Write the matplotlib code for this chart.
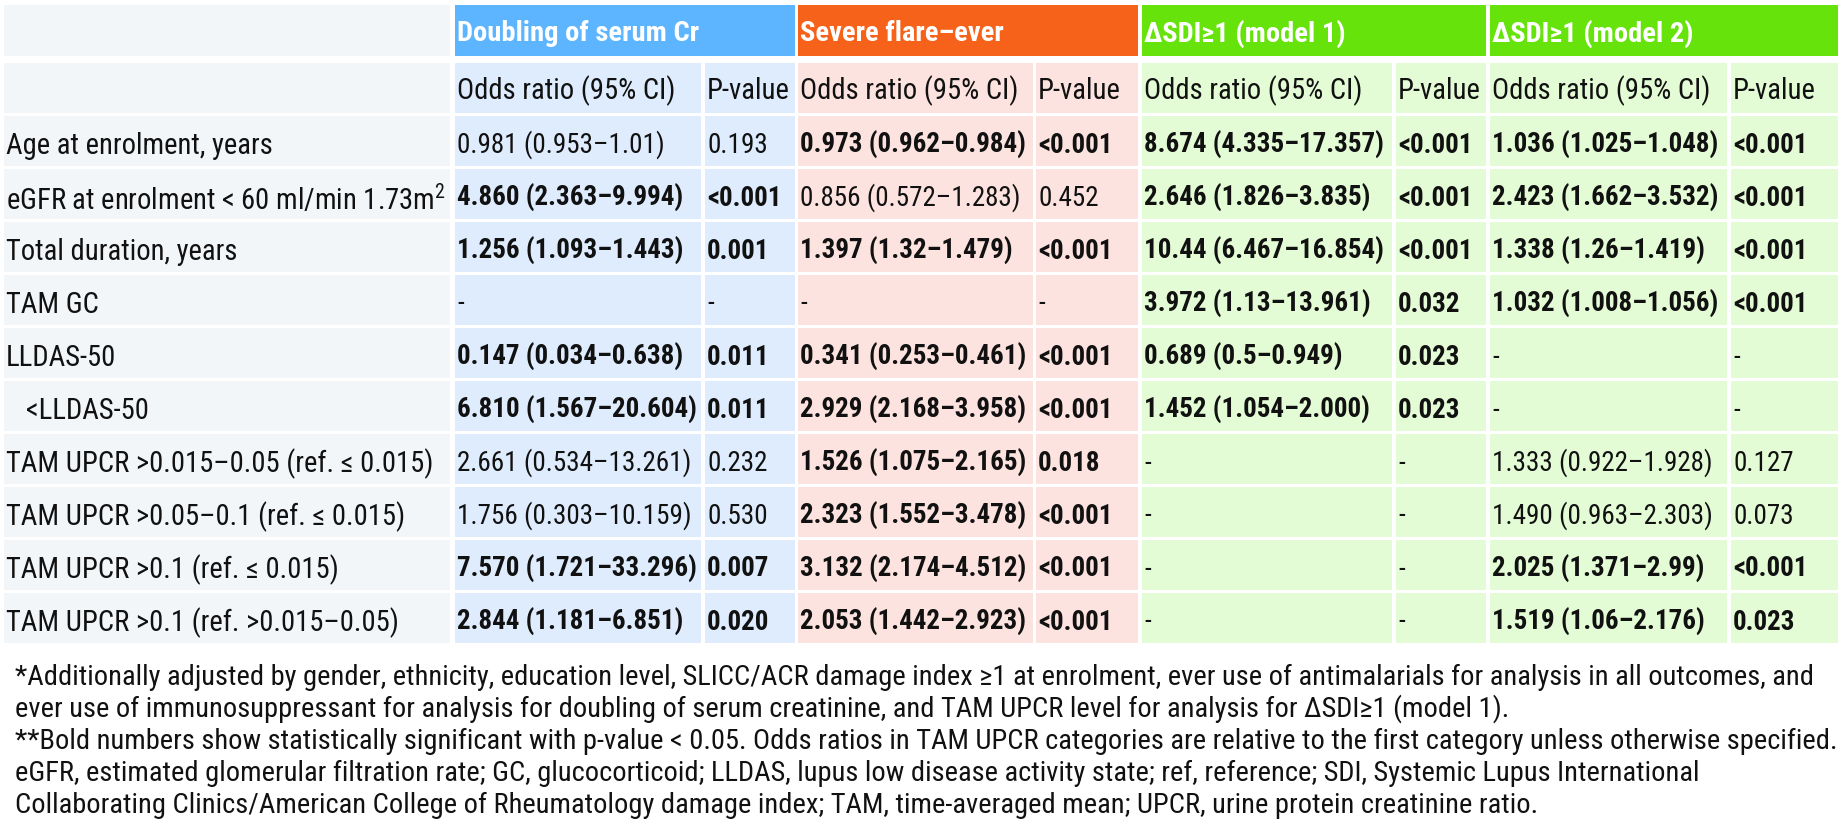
import matplotlib
matplotlib.use("Agg")
import matplotlib.pyplot as plt
from matplotlib import font_manager
from matplotlib.patches import Rectangle

# ---- data ----
outcomes = ["Doubling of serum Cr", "Severe flare\u2013ever", "\u0394SDI\u22651 (model 1)", "\u0394SDI\u22651 (model 2)"]
sub_headers = ["Odds ratio (95% CI)", "P-value"]

row_labels = [
    "Age at enrolment, years",
    "eGFR at enrolment < 60 ml/min 1.73m$^{2}$",
    "Total duration, years",
    "TAM GC",
    "LLDAS-50",
    "   <LLDAS-50",
    "TAM UPCR >0.015\u20130.05 (ref. \u2264 0.015)",
    "TAM UPCR >0.05\u20130.1 (ref. \u2264 0.015)",
    "TAM UPCR >0.1 (ref. \u2264 0.015)",
    "TAM UPCR >0.1 (ref. >0.015\u20130.05)",
]

doubling_or = ["0.981 (0.953\u20131.01)", "4.860 (2.363\u20139.994)", "1.256 (1.093\u20131.443)", "-",
               "0.147 (0.034\u20130.638)", "6.810 (1.567\u201320.604)", "2.661 (0.534\u201313.261)",
               "1.756 (0.303\u201310.159)", "7.570 (1.721\u201333.296)", "2.844 (1.181\u20136.851)"]
doubling_p = ["0.193", "<0.001", "0.001", "-", "0.011", "0.011", "0.232", "0.530", "0.007", "0.020"]
doubling_bold = [0, 1, 1, 0, 1, 1, 0, 0, 1, 1]

flare_or = ["0.973 (0.962\u20130.984)", "0.856 (0.572\u20131.283)", "1.397 (1.32\u20131.479)", "-",
            "0.341 (0.253\u20130.461)", "2.929 (2.168\u20133.958)", "1.526 (1.075\u20132.165)",
            "2.323 (1.552\u20133.478)", "3.132 (2.174\u20134.512)", "2.053 (1.442\u20132.923)"]
flare_p = ["<0.001", "0.452", "<0.001", "-", "<0.001", "<0.001", "0.018", "<0.001", "<0.001", "<0.001"]
flare_bold = [1, 0, 1, 0, 1, 1, 1, 1, 1, 1]

sdi1_or = ["8.674 (4.335\u201317.357)", "2.646 (1.826\u20133.835)", "10.44 (6.467\u201316.854)",
           "3.972 (1.13\u201313.961)", "0.689 (0.5\u20130.949)", "1.452 (1.054\u20132.000)", "-", "-", "-", "-"]
sdi1_p = ["<0.001", "<0.001", "<0.001", "0.032", "0.023", "0.023", "-", "-", "-", "-"]
sdi1_bold = [1, 1, 1, 1, 1, 1, 0, 0, 0, 0]

sdi2_or = ["1.036 (1.025\u20131.048)", "2.423 (1.662\u20133.532)", "1.338 (1.26\u20131.419)",
           "1.032 (1.008\u20131.056)", "-", "-", "1.333 (0.922\u20131.928)", "1.490 (0.963\u20132.303)",
           "2.025 (1.371\u20132.99)", "1.519 (1.06\u20132.176)"]
sdi2_p = ["<0.001", "<0.001", "<0.001", "<0.001", "-", "-", "0.127", "0.073", "<0.001", "0.023"]
sdi2_bold = [1, 1, 1, 1, 0, 0, 0, 0, 1, 1]

footnotes = [
    "*Additionally adjusted by gender, ethnicity, education level, SLICC/ACR damage index \u22651 at enrolment, ever use of antimalarials for analysis in all outcomes, and",
    "ever use of immunosuppressant for analysis for doubling of serum creatinine, and TAM UPCR level for analysis for \u0394SDI\u22651 (model 1).",
    "**Bold numbers show statistically significant with p-value < 0.05. Odds ratios in TAM UPCR categories are relative to the first category unless otherwise specified.",
    "eGFR, estimated glomerular filtration rate; GC, glucocorticoid; LLDAS, lupus low disease activity state; ref, reference; SDI, Systemic Lupus International",
    "Collaborating Clinics/American College of Rheumatology damage index; TAM, time-averaged mean; UPCR, urine protein creatinine ratio.",
]

groups = [
    (doubling_or, doubling_p, doubling_bold),
    (flare_or, flare_p, flare_bold),
    (sdi1_or, sdi1_p, sdi1_bold),
    (sdi2_or, sdi2_p, sdi2_bold),
]

# ---- styling / layout ----
head_colors = ["#5EB5FF", "#F7621A", "#66E30B", "#66E30B"]
cell_colors = ["#DEECFD", "#FDE3DF", "#E3FCD5", "#E3FCD5"]
label_bg = "#F3F6F9"
text_color = "#111111"

label_col = (4, 450)
or_cols = [(455, 701), (798, 1033), (1142, 1392), (1490, 1727)]
p_cols = [(705, 795), (1036, 1138), (1396, 1486), (1731, 1838)]
head_row = (5, 56)
sub_row = (63, 113)
row_top0, row_pitch, row_h = 116, 53, 50
foot_y0, foot_dy = 677, 32

# Calibri-like narrow font if one is installed, else Open Sans
ttf = font_manager.fontManager.ttflist
names = {f.name for f in ttf}
narrow = [n for n in ["Liberation Sans Narrow", "Roboto Condensed", "Open Sans Condensed",
                      "Noto Sans SemiCondensed", "Noto Sans Condensed"] if n in names]
fam = narrow[0] if narrow else ("Open Sans" if "Open Sans" in names else "DejaVu Sans")
plt.rcParams["font.family"] = [fam, "DejaVu Sans"]
plt.rcParams["mathtext.fontset"] = "custom"
plt.rcParams["mathtext.rm"] = fam
plt.rcParams["mathtext.it"] = fam

fig = plt.figure(figsize=(18.42, 8.23), dpi=100)
ax = fig.add_axes([0, 0, 1, 1])
ax.set_xlim(0, 1842)
ax.set_ylim(823, 0)
ax.axis("off")
renderer = fig.canvas.get_renderer()


def fit_size(s, target, weight="normal"):
    t = ax.text(0, 0, s, fontsize=10, fontweight=weight)
    w = t.get_window_extent(renderer).width
    t.remove()
    return 10 * target / w


cell_fs = (fit_size("Age at enrolment, years", 269) + fit_size("TAM UPCR >0.1 (ref. >0.015\u20130.05)", 382)) / 2
data_fs = min(cell_fs, fit_size("2.661 (0.534\u201313.261)", 232))
bold_fs = min(cell_fs, fit_size("6.810 (1.567\u201320.604)", 241, "bold"))
head_fs = fit_size(outcomes[0], 241, "bold")
foot_fs = fit_size(footnotes[2], 1805)


def box(x, y, color):
    ax.add_patch(Rectangle((x[0], y[0]), x[1] - x[0], y[1] - y[0], color=color, lw=0))


# header rows
box(label_col, head_row, label_bg)
box(label_col, sub_row, label_bg)
for g in range(4):
    box((or_cols[g][0], p_cols[g][1]), head_row, head_colors[g])
    ax.text(or_cols[g][0] + 2, (head_row[0] + head_row[1]) / 2 + 3, outcomes[g], color="white",
            fontsize=head_fs, fontweight="bold", va="center", ha="left")
    box(or_cols[g], sub_row, cell_colors[g])
    box(p_cols[g], sub_row, cell_colors[g])
    ax.text(or_cols[g][0] + 2, (sub_row[0] + sub_row[1]) / 2 + 3, sub_headers[0], color=text_color,
            fontsize=cell_fs, va="center", ha="left")
    ax.text(p_cols[g][0] + 2, (sub_row[0] + sub_row[1]) / 2 + 3, sub_headers[1], color=text_color,
            fontsize=cell_fs, va="center", ha="left")

# body rows
for i, lab in enumerate(row_labels):
    y = (row_top0 + i * row_pitch, row_top0 + i * row_pitch + row_h)
    yc = (y[0] + y[1]) / 2 + 4
    box(label_col, y, label_bg)
    ax.text(6, yc + 1, lab, color=text_color, fontsize=cell_fs, va="center", ha="left")
    for g, (ors, ps, bold) in enumerate(groups):
        wgt = "bold" if bold[i] else "normal"
        fs = bold_fs if bold[i] else data_fs
        box(or_cols[g], y, cell_colors[g])
        box(p_cols[g], y, cell_colors[g])
        ax.text(or_cols[g][0] + 2, yc, ors[i], color=text_color, fontsize=fs,
                fontweight=wgt, va="center", ha="left")
        ax.text(p_cols[g][0] + 2, yc, ps[i], color=text_color, fontsize=fs,
                fontweight=wgt, va="center", ha="left")

# footnotes
for k, line in enumerate(footnotes):
    ax.text(15, foot_y0 + k * foot_dy, line, color=text_color, fontsize=foot_fs, va="center", ha="left")

fig.savefig("out.png", dpi=100, facecolor="white")
